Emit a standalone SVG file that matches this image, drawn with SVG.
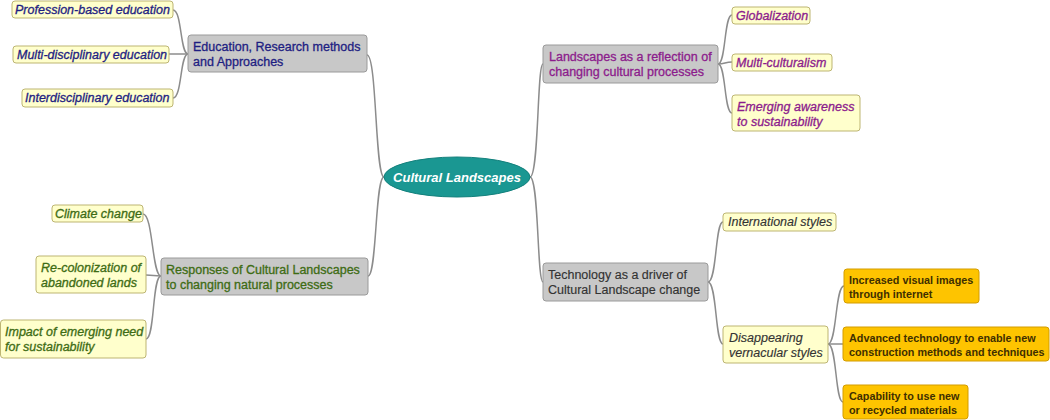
<svg xmlns="http://www.w3.org/2000/svg" width="1050" height="420" viewBox="0 0 1050 420">
<style>
text{font-family:"Liberation Sans",Arial,sans-serif;font-size:12.5px;stroke-width:0.3}
.cat{fill:#c8c8c8;stroke:#9a9a9a;stroke-width:1}
.leaf{fill:#ffffcc;stroke:#bdb573;stroke-width:1}
.org{fill:#fec400;stroke:#d39c00;stroke-width:1}
.it{font-style:italic}
.ob{font-weight:bold;font-size:10.8px;fill:#3f2f00;stroke:none}
.navy{fill:#1e1e82;stroke:#1e1e82}
.purp{fill:#8c1c8c;stroke:#8c1c8c}
.grn{fill:#3e6c14;stroke:#3e6c14}
.dk{fill:#333333;stroke:#333333;stroke-width:0.15}
#connectors path{fill:none;stroke:#8c8c8c;stroke-width:1.5}
</style>
<rect width="1050" height="420" fill="#ffffff"/>
<g id="connectors">
<path d="M384,177 C375,177 377,55 367,55"/>
<path d="M384,177 C375,177 377,276 368,276"/>
<path d="M530,177 C539,177 537,64 543,64"/>
<path d="M530,177 C539,177 537,282 543,282"/>
<path d="M188,54 C180,54 182,10 173,10"/>
<path d="M188,54 L169,54"/>
<path d="M188,54 C180,54 182,98 173,98"/>
<path d="M161,276 C152,276 153,214 143,214"/>
<path d="M161,276 L146,275"/>
<path d="M161,276 C152,276 155,339 146,339"/>
<path d="M718,64 C726,64 724,15 732,15"/>
<path d="M718,64 C725,64 725,62 732,62"/>
<path d="M718,64 C726,64 724,113 732,113"/>
<path d="M708,282 C717,282 715,222 723,222"/>
<path d="M708,282 C717,282 715,344 723,344"/>
<path d="M828,344 C837,344 835,286 844,286"/>
<path d="M828,344 L843,344"/>
<path d="M828,344 C837,344 835,402 843,402"/>
</g>
<g id="center">
<ellipse cx="457" cy="177" rx="73" ry="20" fill="#1a9792" stroke="#13807c" stroke-width="1"/>
<text x="457" y="182" text-anchor="middle" fill="#ffffff" style="font-weight:bold;font-style:italic;font-size:13px">Cultural Landscapes</text>
</g>
<g id="education">
<rect class="cat" x="188" y="35" width="179" height="37" rx="3"/>
<text class="navy" x="193" y="51">Education, Research methods</text>
<text class="navy" x="193" y="66">and Approaches</text>
</g>
<g id="profession">
<rect class="leaf" x="12" y="1" width="161" height="17" rx="3"/>
<text class="navy it" x="15" y="14">Profession-based education</text>
</g>
<g id="multidisciplinary">
<rect class="leaf" x="13" y="46" width="156" height="17" rx="3"/>
<text class="navy it" x="17" y="59">Multi-disciplinary education</text>
</g>
<g id="interdisciplinary">
<rect class="leaf" x="22" y="89" width="151" height="18" rx="3"/>
<text class="navy it" x="25" y="102">Interdisciplinary education</text>
</g>
<g id="responses">
<rect class="cat" x="161" y="258" width="207" height="37" rx="3"/>
<text class="grn" x="166" y="274">Responses of Cultural Landscapes</text>
<text class="grn" x="166" y="289">to changing natural processes</text>
</g>
<g id="climate">
<rect class="leaf" x="52" y="205" width="91" height="17" rx="3"/>
<text class="grn it" x="55" y="218">Climate change</text>
</g>
<g id="recolonization">
<rect class="leaf" x="36" y="256" width="110" height="37" rx="3"/>
<text class="grn it" x="41" y="272">Re-colonization of</text>
<text class="grn it" x="41" y="287">abandoned lands</text>
</g>
<g id="impact">
<rect class="leaf" x="0.5" y="320" width="145.5" height="38" rx="3"/>
<text class="grn it" x="5" y="336">Impact of emerging need</text>
<text class="grn it" x="5" y="351">for sustainability</text>
</g>
<g id="landscapes">
<rect class="cat" x="543" y="45" width="175" height="38" rx="3"/>
<text class="purp" x="549" y="61">Landscapes as a reflection of</text>
<text class="purp" x="549" y="76">changing cultural processes</text>
</g>
<g id="globalization">
<rect class="leaf" x="732" y="7" width="78" height="17" rx="3"/>
<text class="purp it" x="736" y="20">Globalization</text>
</g>
<g id="multiculturalism">
<rect class="leaf" x="732" y="54" width="100" height="17" rx="3"/>
<text class="purp it" x="736" y="67">Multi-culturalism</text>
</g>
<g id="emerging">
<rect class="leaf" x="732" y="95" width="128" height="36" rx="3"/>
<text class="purp it" x="737" y="111">Emerging awareness</text>
<text class="purp it" x="737" y="126">to sustainability</text>
</g>
<g id="technology">
<rect class="cat" x="543" y="263" width="165" height="38" rx="3"/>
<text class="dk" x="548" y="279">Technology as a driver of</text>
<text class="dk" x="548" y="294">Cultural Landscape change</text>
</g>
<g id="international">
<rect class="leaf" x="723" y="213" width="113" height="18" rx="3"/>
<text class="dk it" x="728" y="226">International styles</text>
</g>
<g id="disappearing">
<rect class="leaf" x="723" y="326" width="105" height="37" rx="3"/>
<text class="dk it" x="729" y="342">Disappearing</text>
<text class="dk it" x="729" y="357">vernacular styles</text>
</g>
<g id="visual">
<rect class="org" x="844" y="269" width="135" height="34" rx="3"/>
<text class="ob" x="849" y="284">Increased visual images</text>
<text class="ob" x="849" y="298">through internet</text>
</g>
<g id="advanced">
<rect class="org" x="843" y="327" width="206" height="34" rx="3"/>
<text class="ob" x="849" y="342">Advanced technology to enable new</text>
<text class="ob" x="849" y="356">construction methods and techniques</text>
</g>
<g id="capability">
<rect class="org" x="843" y="385" width="125" height="34" rx="3"/>
<text class="ob" x="849" y="400">Capability to use new</text>
<text class="ob" x="849" y="414">or recycled materials</text>
</g>
</svg>
